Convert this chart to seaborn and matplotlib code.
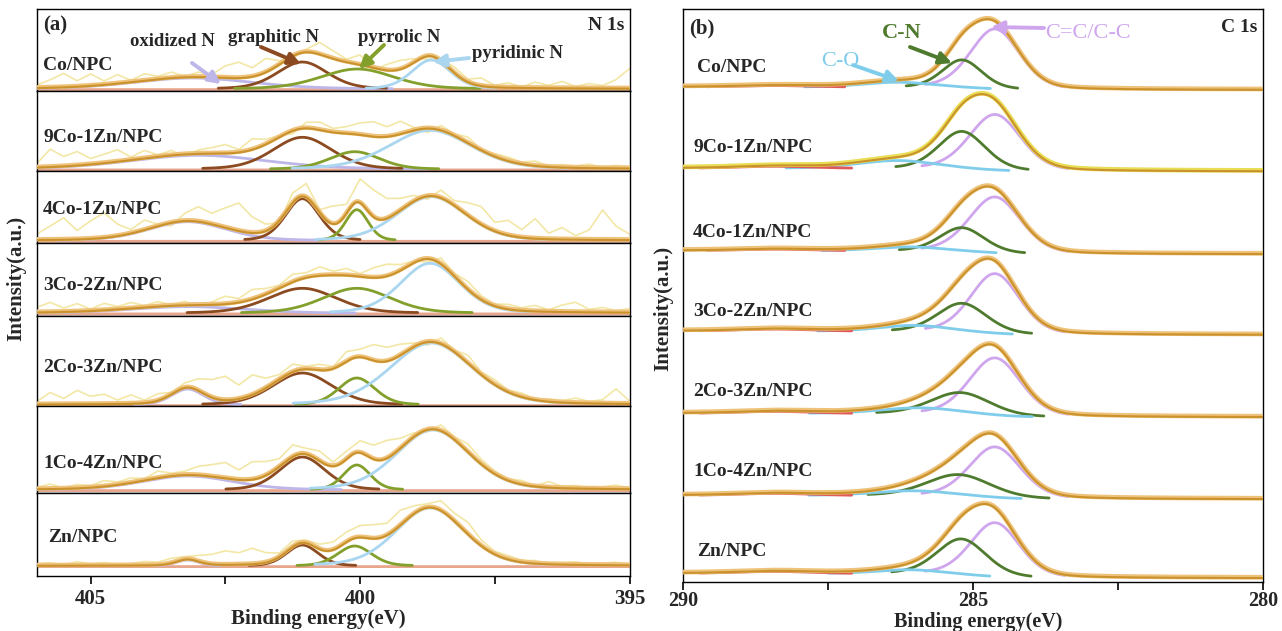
import numpy as np
import pandas as pd
import matplotlib
matplotlib.use("Agg")
import matplotlib.pyplot as plt
from matplotlib.patches import FancyArrowPatch
import seaborn as sns

# ---------------------------------------------------------------- data
samples = ["Co/NPC", "9Co-1Zn/NPC", "4Co-1Zn/NPC", "3Co-2Zn/NPC",
           "2Co-3Zn/NPC", "1Co-4Zn/NPC", "Zn/NPC"]

# N 1s fitted components: oxidized N, graphitic N, pyrrolic N, pyridinic N
n_species = ["oxidized N", "graphitic N", "pyrrolic N", "pyridinic N"]
n_center = [
    [403.10, 401.07, 400.05, 398.68],
    [403.00, 401.07, 400.10, 398.70],
    [403.20, 401.07, 400.06, 398.68],
    [403.20, 401.07, 400.06, 398.70],
    [403.20, 401.07, 400.06, 398.68],
    [403.20, 401.07, 400.06, 398.65],
    [403.20, 401.07, 400.10, 398.70],
]
n_height = [
    [11, 27, 20, 29],
    [14, 32, 17.6, 39],
    [19, 42, 31, 44],
    [6.7, 25, 25, 50],
    [16, 32, 27, 62],
    [14, 33, 25, 60],
    [6, 21, 20, 58],
]
n_fwhm = [
    [2.6, 1.1, 1.6, 0.85],
    [3.0, 1.3, 1.1, 1.8],
    [1.7, 0.75, 0.5, 1.5],
    [2.5, 1.5, 1.5, 1.3],
    [0.7, 1.3, 0.8, 1.8],
    [2.0, 1.0, 0.6, 1.6],
    [0.5, 0.7, 0.75, 1.5],
]
# raw N 1s counts: deviation from the fit, sampled 406 -> 395 eV every 0.25 eV
n_raw_energy = np.linspace(406.0, 395.0, 45)
n_raw_resid = [
    [3, 8, 14, 6, 12, 4, 9, 2, 7, 3, 6, 1, 5, 3, 12, 16, 9, 14, 4, -2, 3,
     12, 8, 3, 10, -2, 6, 9, 4, -3, 2, 6, 3, 8, 2, 5, 1, 6, 3, 7, 2, 5, 3, 9, 20],
    [4, 18, 10, 14, 6, 9, 12, 3, 8, 2, 5, -2, 4, 6, 9, 3, 11, 5, 2, -3, 6,
     8, 4, 7, 12, 15, 10, 13, 3, -4, 5, 2, 6, 1, 3, 4, 2, 5, 1, 3, 2, 4, 1, 3, 2],
    [6, 14, 22, 9, 18, 25, 12, 4, 10, 2, -3, 8, 15, 11, 20, 28, 16, 7, -2, 10, 14,
     3, 18, 9, 24, 27, 20, 12, 6, -3, 8, 5, 13, 18, 9, 15, 8, 20, 6, 12, 4, 10, 30, 14, 6],
    [5, 10, 4, 8, 2, 7, 3, 6, 2, 5, 1, 4, -2, 3, 8, 4, 10, 6, 3, 8, 5,
     9, 4, 7, 3, 10, 12, 6, 2, -3, 6, 3, 8, 4, 2, 5, 3, 6, 2, 7, 10, 3, 5, 2, 4],
    [3, 12, 6, 14, 8, 10, 4, 9, 3, 7, 2, 5, 12, 18, 24, 14, 20, 10, 5, 8, 3,
     6, 2, 10, 8, 16, 14, 11, 4, -3, 6, 2, 8, 3, 5, 2, 4, 1, 3, 2, 5, 2, 4, 15, 3],
    [2, 5, 1, 4, 2, 6, 3, 5, 2, 7, 3, 4, 9, 12, 16, 10, 18, 14, 8, 12, 6,
     10, 4, 8, 12, 14, 18, 10, 4, -2, 6, 3, 8, 5, 3, 2, 4, 1, 6, 2, 3, 1, 2, 4, 1],
    [2, 3, 1, 4, 2, 3, 1, 2, 4, 3, 5, 3, 6, 10, 14, 12, 16, 10, 4, 6, 3,
     5, 8, 10, 12, 14, 12, 15, 8, 4, 10, 8, 12, 6, 3, 4, 2, 3, 1, 2, 3, 1, 2, 3, 1],
]

# C 1s fitted components: C=C/C-C, C-N, C-O, O-C=O
c_species = ["C=C/C-C", "C-N", "C-O", "O-C=O"]
c_center = [
    [284.62, 285.19, 286.30, 288.40],
    [284.62, 285.19, 286.30, 288.40],
    [284.62, 285.19, 286.10, 288.40],
    [284.62, 285.19, 286.00, 288.40],
    [284.62, 285.22, 285.90, 288.40],
    [284.62, 285.25, 286.00, 288.40],
    [284.62, 285.20, 286.10, 288.40],
]
c_height = [
    [60, 28, 5, 1.5],
    [56, 38, 8, 2],
    [56, 24, 4, 1.5],
    [60, 29, 6, 2],
    [58, 22, 6, 2],
    [51, 22, 5, 2],
    [54, 36, 4, 2],
]
c_fwhm = [
    [1.00, 0.80, 1.4, 1.5],
    [1.05, 0.95, 1.6, 1.5],
    [1.05, 0.90, 1.4, 1.5],
    [1.00, 1.00, 1.4, 1.5],
    [1.05, 1.20, 1.6, 1.5],
    [1.05, 1.30, 1.6, 1.5],
    [1.00, 1.00, 1.3, 1.5],
]
c_bg_step = [3.0, 3.3, 3.7, 4.0, 4.0, 4.0, 5.0]

n_ticks = [405, 400, 395]
c_ticks = [290, 285, 280]

# ---------------------------------------------------------------- style
sns.set_theme(style="white")
plt.rcParams["font.family"] = ["Liberation Serif", "DejaVu Serif"]
plt.rcParams["font.weight"] = "bold"
plt.rcParams["axes.labelweight"] = "bold"

W, H = 1282, 631
fig = plt.figure(figsize=(W / 100, H / 100), dpi=100)
fig.patch.set_facecolor("white")

N_COL = ["#BDB6E8", "#8B4A1F", "#83A02C", "#AAD6F0"]
C_COL = ["#CFA6EE", "#4F7B2E", "#7FCDEB", "#E05A5A"]
ENV_HALO = "#EFC27A"
ENV_CORE = "#C9922C"
RAW_COL = "#F3E7A6"
BG_COL = "#E8A68C"
ETA = 0.25


def pvoigt(x, c, h, w):
    d = (x - c) / w
    return h * ((1 - ETA) * np.exp(-4 * np.log(2) * d * d) + ETA / (1 + 4 * d * d))


def px_rect(l, t, r, b):
    return [l / W, 1 - b / H, (r - l) / W, (b - t) / H]


def line(ax, x, y, color, lw, z, alpha=1.0):
    sns.lineplot(x=x, y=y, ax=ax, color=color, lw=lw, zorder=z, alpha=alpha,
                 estimator=None, sort=False, legend=False)


def comp_mask(y, h, frac):
    return y > max(frac * h, 0.3)


def fig_text(x, y, s, **kw):
    kw.setdefault("fontsize", 14)
    kw.setdefault("weight", "bold")
    kw.setdefault("va", "center")
    fig.text(x / W, 1 - y / H, s, **kw)


def fig_arrow(x0, y0, x1, y1, color):
    fig.add_artist(FancyArrowPatch((x0 / W, 1 - y0 / H), (x1 / W, 1 - y1 / H),
                                   transform=fig.transFigure, arrowstyle="-|>",
                                   mutation_scale=18, lw=2.8, color=color,
                                   shrinkA=0, shrinkB=0, zorder=20))


# ---------------------------------------------------------------- panel (a) N 1s
a_left, a_right = 36.7, 629.5
row_edges = [9.3, 91, 170.5, 242.5, 315.5, 406, 493, 576]
row_base = [89, 169.3, 240.7, 313.3, 405, 490, 566]
xN = np.linspace(406, 395, 1101)

for i, s in enumerate(samples):
    ax = fig.add_axes(px_rect(a_left, row_edges[i], a_right, row_edges[i + 1]))
    params = list(zip(n_center[i], n_height[i], n_fwhm[i]))
    comps = [pvoigt(xN, c, h, w) for c, h, w in params]
    env = np.sum(comps, axis=0)
    env_at_raw = np.sum([pvoigt(n_raw_energy, c, h, w) for c, h, w in params], axis=0)
    raw = env_at_raw + np.array(n_raw_resid[i])
    line(ax, n_raw_energy, raw, RAW_COL, 1.2, 1)
    line(ax, xN, np.zeros_like(xN) - 0.6, BG_COL, 2.0, 2)
    for k, comp in enumerate(comps):
        m = comp_mask(comp, params[k][1], 0.03)
        line(ax, xN[m], comp[m], N_COL[k], 2.0, 3 + k * 0.1)
    line(ax, xN, env + 0.8, ENV_HALO, 3.2, 5)
    line(ax, xN, env, ENV_CORE, 1.5, 6)
    ax.set_xlim(406, 395)
    ax.set_ylim(-(row_edges[i + 1] - row_base[i]), row_base[i] - row_edges[i])
    ax.set_yticks([])
    ax.set_ylabel("")
    for sp in ax.spines.values():
        sp.set_color("black")
        sp.set_linewidth(1.0)
    if i < len(samples) - 1:
        ax.set_xticks([])
    else:
        ax.set_xticks(n_ticks)
        ax.set_xticks([402.5, 397.5], minor=True)
        ax.tick_params(axis="x", which="both", direction="out", bottom=True,
                       length=6, width=1.2, color="black", labelsize=15, pad=3)
        ax.tick_params(axis="x", which="minor", labelbottom=False)
        for lab in ax.get_xticklabels():
            lab.set_fontweight("bold")
    ax.set_xlabel("")

# ---------------------------------------------------------------- panel (b) C 1s
b_left, b_right, b_top, b_bot = 682.7, 1263.3, 9.3, 581.7
c_base = [90, 171.5, 254.3, 335, 417.3, 499.3, 578.3]
axb = fig.add_axes(px_rect(b_left, b_top, b_right, b_bot))
xC = np.linspace(290, 280, 1001)
for i, s in enumerate(samples):
    off = b_bot - c_base[i]
    params = list(zip(c_center[i], c_height[i], c_fwhm[i]))
    comps = [pvoigt(xC, c, h, w) for c, h, w in params]
    total = np.sum(comps, axis=0)
    cum = np.cumsum(total[::-1])[::-1]
    bg = c_bg_step[i] * cum / cum[0]
    for k, comp in enumerate(comps):
        m = comp_mask(comp, params[k][1], 0.05)
        line(axb, xC[m], off + bg[m] + comp[m], C_COL[k], 2.0, 3 + k * 0.1)
    halo = "#E9DD55" if i == 1 else ENV_HALO
    line(axb, xC, off + bg + total + 0.8, halo, 3.4, 5)
    line(axb, xC, off + bg + total, ENV_CORE, 1.5, 6)
axb.set_xlim(290, 280)
axb.set_ylim(0, b_bot - b_top)
axb.set_yticks([])
axb.set_ylabel("")
axb.set_xlabel("")
axb.set_xticks(c_ticks)
axb.set_xticks([287.5, 282.5], minor=True)
axb.tick_params(axis="x", which="both", direction="out", bottom=True,
                length=6, width=1.2, color="black", labelsize=14.5, pad=1)
axb.tick_params(axis="x", which="minor", labelbottom=False)
for lab in axb.get_xticklabels():
    lab.set_fontweight("bold")
for sp in axb.spines.values():
    sp.set_color("black")
    sp.set_linewidth(1.0)

# ---------------------------------------------------------------- texts
fig_text(16, 278, "Intensity(a.u.)", rotation=90, ha="center", fontsize=15)
fig_text(663, 308, "Intensity(a.u.)", rotation=90, ha="center", fontsize=15)
fig_text(318, 619, "Binding energy(eV)", ha="center", fontsize=15)
fig_text(978, 621.5, "Binding energy(eV)", ha="center", fontsize=14.5)

fig_text(43, 25, "(a)", ha="left", fontsize=15)
fig_text(624, 25, "N 1s", ha="right", fontsize=14)
fig_text(689, 28, "(b)", ha="left", fontsize=15)
fig_text(1257, 27, "C 1s", ha="right", fontsize=14)

a_label_y = [65, 137, 210, 285, 368, 463, 537]
for s, y in zip(samples, a_label_y):
    fig_text(48 if s == "Zn/NPC" else 43, y, s, ha="left", fontsize=14, zorder=30)
b_label_y = [68, 147, 233, 312, 392, 472, 552]
for s, y in zip(samples, b_label_y):
    fig_text(697 if s in ("Co/NPC", "Zn/NPC") else 693, y, s, ha="left", fontsize=14, zorder=30)

fig_text(172, 42, "oxidized N", ha="center", fontsize=13.5)
fig_text(274, 38, "graphitic N", ha="center", fontsize=13.5)
fig_text(399, 38, "pyrrolic N", ha="center", fontsize=13.5)
fig_text(517, 53, "pyridinic N", ha="center", fontsize=13.5)
fig_arrow(192, 63, 221, 84, N_COL[0])
fig_arrow(261, 47, 301, 64, N_COL[1])
fig_arrow(384, 45, 359, 69, N_COL[2])
fig_arrow(469, 58, 433, 62, N_COL[3])

fig_text(902, 33, "C-N", ha="center", fontsize=16, color=C_COL[1])
fig_text(1088, 33, "C=C/C-C", ha="center", fontsize=16, color=C_COL[0], weight="normal")
fig_text(840, 62, "C-O", ha="center", fontsize=16, color=C_COL[2], weight="normal")
fig_arrow(910, 47, 952, 63, C_COL[1])
fig_arrow(1044, 28, 991, 27, C_COL[0])
fig_arrow(853, 65, 899, 81, C_COL[2])

fig.savefig("out.png", dpi=100, facecolor="white")
